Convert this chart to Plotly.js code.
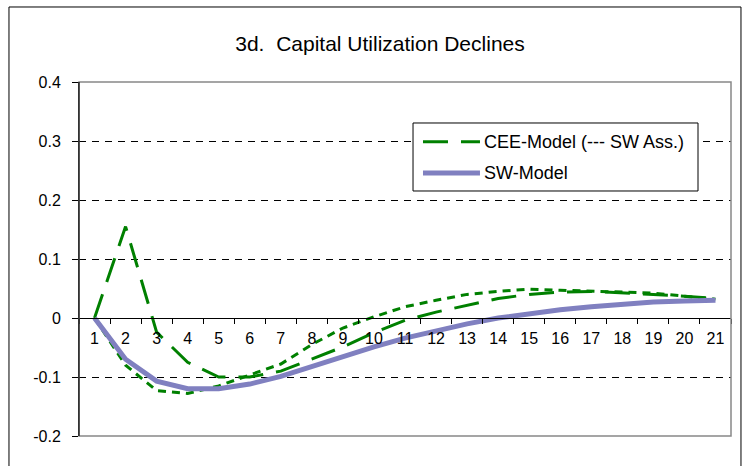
<!DOCTYPE html>
<html>
<head>
<meta charset="utf-8">
<script src="https://cdn.plot.ly/plotly-3.0.1.min.js"></script>
<style>
html,body{margin:0;padding:0;background:#fff;}
#chart{width:751px;height:466px;}
</style>
</head>
<body>
<div id="chart"></div>
<script>
const periods = ["1","2","3","4","5","6","7","8","9","10","11","12","13","14","15","16","17","18","19","20","21"];
const ceeModel = [0, 0.155, -0.024, -0.075, -0.100, -0.100, -0.090, -0.070, -0.049, -0.025, -0.004, 0.010, 0.022, 0.033, 0.040, 0.044, 0.045, 0.043, 0.040, 0.037, 0.033];
const swAssumption = [0, -0.080, -0.123, -0.128, -0.115, -0.097, -0.078, -0.045, -0.017, 0.002, 0.019, 0.030, 0.040, 0.045, 0.049, 0.047, 0.046, 0.044, 0.042, 0.037, 0.032];
const swModel = [0, -0.070, -0.107, -0.120, -0.120, -0.112, -0.099, -0.082, -0.067, -0.049, -0.034, -0.021, -0.010, 0.000, 0.008, 0.014, 0.019, 0.024, 0.027, 0.029, 0.030];
const yTicks = [0.4, 0.3, 0.2, 0.1, 0, -0.1, -0.2];
const yTickText = ["0.4", "0.3", "0.2", "0.1", "0", "-0.1", "-0.2"];
const legendLabels = ["CEE-Model (--- SW Ass.)", "SW-Model"];
const chartTitle = "3d.\u00a0 Capital Utilization Declines";

const FONT = "Liberation Sans, Arial, sans-serif";
const GREEN = "#008000", PURPLE = "#8080C0";
const CEE_DASH = "25px,13px", ASS_DASH = "8px,6px";

const traces = [
  {x: periods, y: swAssumption, type: "scatter", mode: "lines", name: "SW Ass.",
   showlegend: false, line: {color: GREEN, width: 3, dash: ASS_DASH}},
  {x: periods, y: ceeModel, type: "scatter", mode: "lines", name: legendLabels[0],
   showlegend: false, line: {color: GREEN, width: 3, dash: CEE_DASH}},
  {x: periods, y: swModel, type: "scatter", mode: "lines", name: legendLabels[1],
   showlegend: false, line: {color: PURPLE, width: 5}}
];

// legend box (paper coordinates)
const LX0 = 0.5123, LX1 = 0.9494, LY0 = 0.6921, LY1 = 0.8842;
const row1 = 0.8314, row2 = 0.7429, sx0 = 0.5276, sx1 = 0.6150, tx = 0.6181;

const layout = {
  width: 751, height: 466,
  margin: {l: 79, r: 20, t: 82, b: 30, pad: 0},
  paper_bgcolor: "#fff", plot_bgcolor: "#fff",
  font: {family: FONT, size: 16, color: "#000"},
  showlegend: false,
  title: {text: chartTitle, font: {family: FONT, size: 21, color: "#000"},
          x: 0.506, xanchor: "center", y: 0.907, yanchor: "middle"},
  xaxis: {
    type: "category", anchor: "free", position: 1/3,
    showgrid: false, zeroline: false,
    showline: true, linecolor: "#000", linewidth: 1,
    ticks: "outside", ticklen: 5, tickcolor: "#000", tickson: "boundaries",
    ticklabelstandoff: 6,
    tickfont: {family: FONT, size: 16, color: "#000"},
    range: [-0.5, 20.5], fixedrange: true
  },
  yaxis: {
    range: [-0.2, 0.4], tickvals: yTicks, ticktext: yTickText,
    showgrid: true, gridcolor: "#000", gridwidth: 1, griddash: "7px,6px",
    zeroline: false, showline: true, linecolor: "#000", linewidth: 1,
    ticks: "outside", ticklen: 6, tickcolor: "#000", ticklabelstandoff: 8,
    tickfont: {family: FONT, size: 16, color: "#000"}, fixedrange: true
  },
  shapes: [
    {type: "rect", xref: "paper", yref: "paper", x0: 0, x1: 1, y0: 0, y1: 1,
     line: {color: "#888", width: 1.5}, layer: "above"},
    {type: "line", xref: "paper", yref: "paper", x0: 0, x1: 0, y0: 0, y1: 1,
     line: {color: "#000", width: 1}, layer: "above"},
    {type: "rect", xref: "paper", yref: "paper", x0: -0.1074, x1: 1.0153, y0: -0.12, y1: 1.2119,
     line: {color: "#000", width: 1}, layer: "below"},
    {type: "rect", xref: "paper", yref: "paper", x0: LX0, x1: LX1, y0: LY0, y1: LY1,
     line: {color: "#000", width: 1}, fillcolor: "#fff", layer: "above"},
    {type: "line", xref: "paper", yref: "paper", x0: sx0, x1: sx1, y0: row1, y1: row1,
     line: {color: GREEN, width: 3, dash: CEE_DASH}, layer: "above"},
    {type: "line", xref: "paper", yref: "paper", x0: sx0, x1: sx1, y0: row2, y1: row2,
     line: {color: PURPLE, width: 5}, layer: "above"}
  ],
  annotations: [
    {xref: "paper", yref: "paper", x: tx, y: row1, xanchor: "left", yanchor: "middle",
     text: legendLabels[0], showarrow: false, font: {family: FONT, size: 18, color: "#000"}},
    {xref: "paper", yref: "paper", x: tx, y: row2, xanchor: "left", yanchor: "middle",
     text: legendLabels[1], showarrow: false, font: {family: FONT, size: 18, color: "#000"}}
  ]
};

Plotly.newPlot("chart", traces, layout, {displayModeBar: false, staticPlot: true});
</script>
</body>
</html>
